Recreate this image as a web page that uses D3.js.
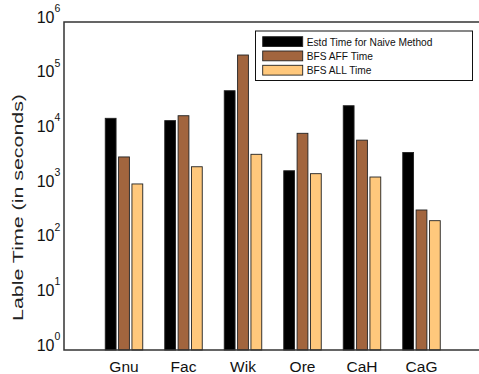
<!DOCTYPE html>
<html>
<head>
<meta charset="utf-8">
<script src="https://cdn.jsdelivr.net/npm/d3@7"></script>
<style>
  body { margin: 0; background: #fff; }
  svg { display: block; font-family: "Liberation Sans", Arial, sans-serif; }
</style>
</head>
<body>
<div id="chart"></div>
<script>
const width = 479, height = 374;

const datasets = ["Gnu", "Fac", "Wik", "Ore", "CaH", "CaG"];
const seriesNames = ["Estd Time for Naive Method", "BFS AFF Time", "BFS ALL Time"];
const naiveTime = [17300, 15700, 55300, 1900, 29400, 4100];
const affTime = [3400, 19300, 249000, 9200, 6900, 364];
const allTime = [1090, 2250, 3800, 1680, 1460, 232];
const yTicks = [0, 1, 2, 3, 4, 5, 6];
const colors = ["#000000", "#a2653e", "#ffc87c"];

const margin = { left: 64, top: 22, bottom: 350 };

const rows = datasets.map((name, i) => ({
    name,
    values: [naiveTime[i], affTime[i], allTime[i]]
}));

const svg = d3.select("#chart").append("svg")
    .attr("width", width)
    .attr("height", height);

const xScale = d3.scaleBand()
    .domain(datasets)
    .range([94.25, 451.25]);

const subScale = d3.scaleBand()
    .domain(seriesNames)
    .range([0, 37.5])
    .paddingInner(0.19);

const yScale = d3.scaleLog()
    .domain([1, 1e6])
    .range([margin.bottom, margin.top]);

// bars
const groups = svg.selectAll(".group")
    .data(rows)
    .join("g")
        .attr("class", "group")
        .attr("transform", d => `translate(${xScale(d.name) + xScale.bandwidth() / 2 - 18.75}, 0)`);

groups.selectAll("rect")
    .data(d => d.values.map((v, j) => ({ key: seriesNames[j], value: v, j })))
    .join("rect")
        .attr("x", d => subScale(d.key))
        .attr("y", d => yScale(d.value))
        .attr("width", subScale.bandwidth())
        .attr("height", d => yScale(1) - yScale(d.value))
        .attr("fill", d => colors[d.j])
        .attr("stroke", "#222")
        .attr("stroke-width", 0.9);

// frame (left, top, bottom)
svg.append("path")
    .attr("d", `M${width + 5},${margin.top}H${margin.left}V${margin.bottom}H${width + 5}`)
    .attr("fill", "none")
    .attr("stroke", "#333")
    .attr("stroke-width", 1.5);

// y tick labels 10^n
const yLabels = svg.append("g");
yTicks.forEach(p => {
    yLabels.append("text")
        .attr("x", 54.5)
        .attr("y", yScale(Math.pow(10, p)) + 0.5)
        .attr("text-anchor", "end")
        .attr("font-size", 16)
        .attr("fill", "#111")
        .text("10");
    yLabels.append("text")
        .attr("x", 54.5)
        .attr("y", yScale(Math.pow(10, p)) - 10)
        .attr("font-size", 10.5)
        .attr("fill", "#111")
        .text(p);
});

// x tick labels
svg.append("g").selectAll("text")
    .data(datasets)
    .join("text")
        .attr("x", d => xScale(d) + xScale.bandwidth() / 2)
        .attr("y", 372)
        .attr("text-anchor", "middle")
        .attr("font-size", 15.5)
        .attr("fill", "#111")
        .text(d => d);

// y axis title
svg.append("text")
    .attr("transform", "translate(23, 207.5) rotate(-90)")
    .attr("text-anchor", "middle")
    .attr("font-size", 15.5)
    .attr("textLength", 227)
    .attr("lengthAdjust", "spacingAndGlyphs")
    .attr("fill", "#222")
    .text("Lable Time (in seconds)");

// legend
const legend = svg.append("g");
legend.append("rect")
    .attr("x", 255.5).attr("y", 31)
    .attr("width", 217).attr("height", 49.5)
    .attr("fill", "#fff")
    .attr("stroke", "#111")
    .attr("stroke-width", 1);

seriesNames.forEach((name, i) => {
    const y = 36.7 + i * 14.3;
    legend.append("rect")
        .attr("x", 262.7).attr("y", y)
        .attr("width", 40).attr("height", 9.8)
        .attr("fill", colors[i])
        .attr("stroke", "#222")
        .attr("stroke-width", 0.9);
    legend.append("text")
        .attr("x", 306.7).attr("y", y + 9)
        .attr("font-size", 10.2)
        .attr("fill", "#111")
        .text(name);
});
</script>
</body>
</html>
